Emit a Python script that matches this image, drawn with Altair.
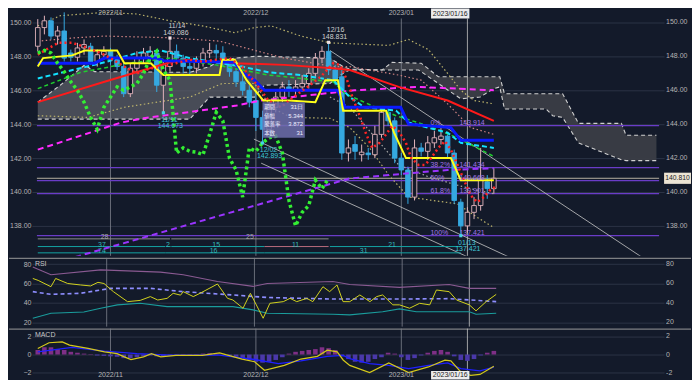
import altair as alt
import pandas as pd

# ---------------- data (daily candles, index 0 = 2022/11/01) ----------------
IDX = list(range(-11, 59))
OPEN = [148.6, 149.7, 150.1, 149.2, 149.5, 148.2, 147.95, 148.5, 148.6, 147.7, 148.1,
        148.3, 147.8, 147.4, 145.8, 147.3, 147.9, 148.0, 148.2, 146.3, 147.4,
        148.3, 147.9, 147.4, 147.3, 147.7, 148.2, 148.35, 148.2, 147.6, 147.1,
        146.5, 146.0, 145.4, 144.4, 143.7, 145.0, 145.6, 146.2, 146.0, 146.2,
        146.4, 147.0, 147.9, 148.3, 147.2, 146.8, 142.3, 142.8, 142.2, 142.3,
        142.2, 143.4, 144.7, 144.2, 142.0, 141.3, 139.7, 142.6, 142.4, 142.9,
        143.1, 143.3, 142.3, 139.4, 138.0, 138.8, 139.2, 140.6, 140.2]
HIGH = [150.2, 150.4, 150.3, 149.8, 150.6, 148.4, 148.8, 149.0, 148.8, 148.4, 148.6,
        148.5, 148.1, 147.6, 147.6, 148.3, 148.5, 148.6, 148.4, 147.8, 149.086,
        148.7, 148.1, 147.8, 148.0, 148.5, 148.8, 148.7, 148.6, 147.9, 147.3,
        146.9, 146.3, 145.9, 144.8, 145.3, 145.9, 146.5, 146.6, 146.6, 146.9,
        147.3, 148.2, 148.6, 148.831, 147.5, 147.3, 143.1, 143.3, 142.8, 142.6,
        143.9, 144.9, 145.0, 144.4, 142.3, 141.5, 143.1, 142.9, 143.3, 143.6,
        143.914, 143.5, 142.5, 139.6, 139.1, 139.7, 142.6, 141.0, 141.4]
LOW = [148.3, 149.3, 149.0, 148.7, 147.7, 147.7, 147.7, 148.1, 147.5, 147.4, 147.8,
       147.5, 147.2, 145.6, 145.6, 147.0, 147.6, 147.7, 145.9, 144.673, 147.1,
       147.6, 147.0, 146.9, 147.0, 147.4, 147.9, 147.8, 147.4, 146.8, 146.2,
       145.7, 145.0, 143.6, 142.893, 143.5, 144.7, 145.3, 145.6, 145.7, 145.9,
       146.1, 146.8, 147.6, 146.9, 146.3, 141.9, 141.8, 141.9, 141.8, 141.9,
       142.0, 143.2, 143.9, 141.7, 141.0, 139.3, 139.5, 142.1, 141.9, 142.6,
       142.8, 142.0, 139.3, 137.421, 137.6, 138.4, 138.9, 139.6, 139.9]
CLOSE = [149.7, 150.1, 149.2, 149.5, 147.9, 147.95, 148.5, 148.7, 147.7, 148.1, 148.3,
         147.8, 147.4, 145.8, 147.3, 147.9, 148.2, 148.3, 146.3, 147.5, 148.3,
         147.9, 147.4, 147.3, 147.7, 148.2, 148.35, 148.2, 147.6, 147.1, 146.5,
         146.0, 145.3, 144.4, 143.7, 145.0, 145.6, 146.2, 146.0, 146.2, 146.4,
         147.0, 147.9, 148.3, 147.2, 146.6, 142.3, 142.6, 142.4, 142.35, 142.2,
         143.4, 144.7, 144.2, 142.0, 141.3, 139.7, 142.6, 142.4, 142.9, 143.2,
         143.3, 142.3, 139.5, 138.0, 138.8, 139.2, 140.7, 140.2, 140.81]
HIST = [0.5, 0.8, 0.8, 0.6, 0.5, 0.3, 0.2, 0.1, 0.05, -0.1,
        -0.15, -0.2, -0.25, -0.4, -0.4, -0.3, -0.2, -0.1, -0.2, -0.2,
        -0.1, -0.05, 0.05, 0.05, 0.05, 0.1, 0.15, 0.1, 0.0, -0.15,
        -0.25, -0.4, -0.6, -0.8, -0.9, -0.8, -0.6, -0.3, 0.1, 0.3,
        0.4, 0.5, 0.6, 0.8, 0.7, 0.5, -0.2, -0.5, -0.8, -0.9,
        -0.8, -0.5, -0.3, 0.2, 0.1, -0.3, -0.6, -0.4, -0.1, 0.2,
        0.4, 0.5, 0.3, -0.2, -0.6, -0.7, -0.5, -0.1, 0.2, 0.4]

MONTH_IDX = [0, 22, 44]
MONTH_LABELS = ["2022/11", "2022/12", "2023/01"]
CROSS_IDX = 54
CROSS_LABEL = "2023/01/16"
LAST_PRICE = 140.81
PRICE_TICKS = [138, 140, 142, 144, 146, 148, 150]
RSI_TICKS = [20, 40, 60, 80]
MACD_TICKS = [-2, 0, 2]
CHIKOU_SHIFT = 25

# Ichimoku cloud (two colour regimes, split at index 35.2)
CLOUD_X = [-11, -7.6, -3.9, -2.4, 12, 15, 15.9, 18.8, 21.8, 22.8, 23.3, 33.2, 35.2, 36.2, 41.1,
           42.6, 46.6, 47, 49.6, 53, 55.9, 58, 58.9, 59.6, 65.9, 66.9, 68.4, 70.8, 77.3, 78, 82.6]
CLOUD_UP = [145.3, 146.3, 147.5, 147.1, 147.06, 147.4, 147.6, 147.9, 148.0, 148.0, 148.0, 147.9, 147.4, 147.25, 147.2,
            147.65, 147.6, 147.6, 146.8, 146.8, 146.8, 146.8, 146.8, 145.8, 145.8, 145.8, 145.8, 144.05, 144.05, 143.35, 143.35]
CLOUD_LO = [144.3, 144.3, 144.3, 144.3, 144.3, 145.6, 145.6, 145.6, 145.6, 146.1, 146.3, 146.4, 147.0, 147.2, 147.2,
            147.2, 147.2, 147.1, 146.4, 145.5, 145.6, 146.1, 146.2, 144.9, 144.9, 144.5, 144.4, 142.9, 141.9, 141.85, 141.85]
CLOUD_SPLIT = 35.2

# Bollinger bands
BB_UP2_X = [-11, -7.6, -0.9, 4, 9, 13.9, 18.8, 21.8, 24.3, 28.8, 33.2, 39.2, 42.1, 45.1, 48.1, 51, 53, 55, 58]
BB_UP2_Y = [149.8, 150.4, 150.6, 150.5, 150.1, 149.8, 149.4, 149.7, 149.8, 149.2, 148.8, 148.7, 148.65, 149.0, 148.4, 147.0, 146.0, 145.4, 145.2]
BB_UP1_X = [-11, -5.3, -0.9, 9, 16.5, 21.4, 26.3, 33.7, 36.2, 43.6, 47, 51, 54.5, 58]
BB_UP1_Y = [148.9, 149.1, 149.2, 149.1, 148.9, 148.4, 147.9, 147.4, 147.4, 146.9, 146.6, 145.2, 143.8, 143.4]
BB_LO1_X = [33.2, 36.2, 39.2, 43.6, 48.1, 52.5, 55.5, 58]
BB_LO1_Y = [145.6, 145.0, 143.6, 141.6, 140.9, 140.4, 140.1, 139.9]
BB_LO2_X = [-11, -3.4, 2.1, 12, 16.9, 21.8, 24.3, 27.3, 33.2, 36.2, 39.2, 42.1, 45.1, 52.5, 55.5, 58]
BB_LO2_Y = [144.5, 144.4, 145.0, 145.6, 146.4, 146.4, 145.0, 144.4, 144.35, 143.8, 142.6, 141.0, 139.7, 139.3, 138.5, 137.9]

# moving averages / ichimoku lines
RED_X = [-11, -0.9, 9, 11, 18.8, 26.3, 33.7, 36.2, 43.6, 51, 58]
RED_Y = [145.3, 146.5, 147.65, 147.8, 147.6, 147.5, 147.3, 147.2, 146.2, 145.4, 144.2]
BLUE_X = [-11, -2.4, -0.9, 7, 8, 18.8, 19.9, 21.8, 23.3, 34.4, 35.5, 43.9, 45.1, 51.5, 53, 58]
BLUE_Y = [147.6, 147.6, 147.9, 147.9, 147.75, 147.65, 147.05, 146.6, 146.0, 146.0, 145.0, 145.0, 144.0, 143.8, 143.05, 143.05]
YEL_X = [-11, -10.2, -5.8, -3.9, 1, 2.1, 6.1, 8, 16.5, 16.9, 18.8, 20.6, 23.1, 27, 31, 32.5, 34.4, 35.2,
         41.7, 42.9, 44.7, 51.5, 53, 58]
YEL_Y = [147.4, 147.9, 148.06, 148.35, 148.35, 147.6, 147.6, 146.9, 146.9, 147.8, 147.8, 146.6, 145.4, 145.4,
         145.3, 146.6, 146.6, 144.8, 144.8, 143.5, 142.0, 142.0, 140.7, 140.7]
CYAN_X = [-11, -0.9, 4, 7.6, 12, 15.9, 19.9, 23.9, 28.8, 33.7, 36.2, 38.4, 43.2, 45.1, 51, 53, 58]
CYAN_Y = [146.7, 147.65, 148.2, 148.35, 147.9, 147.65, 147.4, 147.06, 146.9, 146.6, 145.6, 145.0, 144.8, 144.1, 143.5, 142.9, 142.6]
GREEN_X = [-11, -4.6, 2.8, 9, 15.9, 23.9, 33.7, 35.5, 40.7, 43.2, 48.1, 52.5, 58]
GREEN_Y = [146.1, 147.05, 147.6, 147.9, 147.5, 146.9, 146.5, 145.8, 144.9, 144.5, 143.9, 143.2, 142.1]
MAG_X = [-11, 1.6, 5, 19.1, 22.8, 36.9, 46.6, 58]
MAG_Y = [142.5, 144.1, 144.35, 145.1, 145.4, 146.0, 146.2, 146.0]
PUR_X = [-6.8, 36.2, 51, 58]
PUR_Y = [136.0, 140.8, 141.3, 141.4]
MA5_X = [-11, -9.3, -7.9, -5.8, -3.4, -0.9, 2.1, 4, 6.1, 8, 9.9, 12, 13.9, 15.9, 18, 19.9, 21.8, 23.9,
         25.8, 27.7, 29.8, 31.8, 33.7, 34.7, 35.8, 36.6, 37.7, 38.7, 39.6, 40.7, 41.7, 42.6, 43.6, 44.7,
         45.5, 46.6, 47.6, 48.5, 49.6, 50.6, 51.5, 52.5, 53.6, 54.5, 55.5, 56.5, 57.4, 58.2]
MA5_Y = [148.1, 148.5, 148.8, 148.8, 148.5, 148.1, 147.4, 147.0, 147.3, 147.4, 147.6, 147.8, 147.7, 147.8,
         147.9, 147.4, 146.5, 145.4, 145.0, 145.6, 146.2, 146.8, 147.6, 147.5, 146.6, 145.6, 144.5, 143.4,
         142.6, 142.9, 143.4, 143.9, 143.6, 142.9, 142.0, 141.6, 141.6, 142.0, 142.6, 143.0, 142.5, 141.6,
         140.6, 139.8, 139.4, 139.7, 140.1, 140.3]

# trend lines
TL_X1 = [33.2, 21.7, 22.8]
TL_Y1 = [148.35, 143.12, 141.7]
TL_X2 = [80.3, 60.2, 54.0]
TL_Y2 = [136.18, 136.18, 136.18]

# fibonacci
FIB_PCT = ["0%", "38.2%", "50%", "61.8%", "100%"]
FIB_VAL = [143.914, 141.434, 140.668, 139.901, 137.421]

# swing highs / lows
HI_X = [9, 33]
HI_P = [149.086, 148.831]
HI_DATE = ["11/14", "12/16"]
LO_X = [8, 23, 53]
LO_P = [144.673, 142.893, 137.421]
LO_DATE = ["11/11", "12/02", "01/13"]

# measurement box
BOX_KEYS = ["期間", "値幅", "騰落率", "本数"]
BOX_VALS = ["31日", "5.344", "3.872", "31"]

# count rows
CNT_LABELS_1 = ["28", "25"]
CNT_LABELS_2 = ["37", "2", "15", "11", "21"]
CNT_LABELS_3 = ["74", "16", "31"]

# RSI panel
RSI_X = [-11, -10.2, -8.3, -7.6, -5.8, -3.9, -2.4, -1.3, -0.4, 1, 3.1, 5, 6.5, 7.6, 9, 9.9, 11, 11.4, 12.9,
         13.9, 16.5, 18, 18.8, 20.3, 21.4, 23.3, 24.3, 26.3, 27.3, 28.3, 29.8, 30.7, 32.2, 33.2, 34.3, 35.2,
         36.2, 37.7, 39.2, 40.2, 41.1, 42.6, 43.6, 45.1, 46.6, 48.1, 49.1, 51, 52.1, 54, 55, 56.5, 58]
RSI_Y = [65.2, 63.2, 56.7, 65.2, 60, 58.5, 57.5, 61.2, 60, 51.6, 41.3, 42.6, 46.5, 43, 44.7, 49.9, 48, 51.6, 46.5,
         49.9, 59.5, 44.7, 43, 34.5, 49.9, 24.2, 39.6, 41.3, 44.7, 41.3, 44.7, 41.3, 56.7, 51.6, 58.5, 41.3,
         41.3, 48.2, 41.3, 46.5, 48.2, 38, 38, 34.5, 39.6, 38, 53.3, 51.6, 43, 38, 31.8, 41.3, 48.8]
RSI_SIG_X = [-11, -8.3, -3.9, 0.6, 6.5, 11.4, 18.8, 23.9, 33.7, 43.6, 51, 58]
RSI_SIG_Y = [51.6, 48.8, 49.9, 55, 55, 51.6, 48.2, 45.6, 44, 44, 44.4, 41.3]
RSI_UP_X = [-11, -8.3, -0.9, 8, 11.4, 16.5, 21.8, 23.9, 33.7, 36.2, 43.6, 51, 54, 58]
RSI_UP_Y = [77, 69, 74, 71.7, 69, 62, 57, 60, 62, 59, 56, 59, 55, 55]
RSI_LO_X = [-11, -8.3, -3.4, -0.9, 1.6, 5, 9, 18.8, 21.8, 23.9, 33.7, 36.2, 41.1, 43.6, 46.1, 54, 55, 58]
RSI_LO_Y = [24.2, 29.3, 30.6, 34.5, 38, 39.6, 36.2, 36.2, 32.8, 29.3, 28.3, 27.7, 30.9, 33.8, 30.9, 30.9, 28.3, 29.3]

# MACD panel
MACD_X = [-11, -9.3, -7.3, -6.2, -3.4, -0.9, 1, 2.1, 3.1, 5, 6.2, 7.6, 9.9, 13.9, 16.5, 19.9, 21.8, 23.3,
          26.3, 28.8, 31.3, 32.8, 34.3, 35.2, 36.2, 39.2, 42.1, 45.1, 48.1, 50.6, 51.5, 53, 54.5, 55.9, 58]
MACD_Y = [0.67, 1.3, 1.4, 1.04, 0.67, 0.3, 0.1, -0.26, -0.55, -0.26, 0.1, -0.26, -0.1, -0.1, 0.18, -0.5, -0.8,
          -1.74, -1.2, -0.5, -0.2, 0.48, 0.3, -0.6, -1.2, -2.0, -0.93, -2.0, -1.37, -0.63, -0.7, -1.93, -2.3, -2.2, -1.3]
SIG_X = [-11, -5.8, -0.9, 4, 9, 16.5, 21.8, 25.4, 28.8, 32.8, 35.2, 36.2, 39.2, 42.1, 45.1, 48.1, 51, 53, 55.9, 58]
SIG_Y = [0.3, 0.78, 0.37, 0.1, -0.07, -0.07, -0.55, -1.0, -0.7, -0.2, -0.1, -0.44, -1.0, -1.2, -1.56, -1.2,
         -0.93, -1.56, -1.8, -1.4]

# ---------------- styling ----------------
BG = "#131a2a"
GRID = "#2b3345"
LBL = "#b4b4b4"
FONT = "Liberation Sans"
JFONT = "Noto Sans CJK JP"
BULL = "#e2b4bc"
BEAR = "#35a8e0"
W = 634
H_MAIN, H_RSI, H_MACD = 248, 69, 51
LEFT_EXT = 23

XS = alt.Scale(domain=[-11.13, 83.0], nice=False, zero=False)
YS = alt.Scale(domain=[136.235, 150.8235], nice=False, zero=False)
RS = alt.Scale(domain=[15.58, 86.47], nice=False, zero=False)
MS = alt.Scale(domain=[-2.753, 2.863], nice=False, zero=False)


def mk_axis(values, fmt):
    return alt.Axis(values=values, format=fmt, grid=True, gridColor=GRID, gridWidth=1, domain=False,
                    ticks=False, tickSize=0, labelColor=LBL, labelFont=FONT, labelFontSize=7,
                    labelPadding=1, minExtent=LEFT_EXT, maxExtent=LEFT_EXT, title=None)


MAIN_AX = mk_axis(PRICE_TICKS, ".2f")
RSI_AX = mk_axis(RSI_TICKS, "d")
MACD_AX = mk_axis(MACD_TICKS, "d")


def ex(f="x"):
    return alt.X(f"{f}:Q", scale=XS, axis=None)


def ey(f, sc=YS, ax=MAIN_AX):
    return alt.Y(f"{f}:Q", scale=sc, axis=ax)


def pline(xs, ys, color, width, dash=None, sc=YS, ax=MAIN_AX, opacity=1.0):
    kw = dict(color=color, strokeWidth=width, clip=True, opacity=opacity)
    if dash:
        kw["strokeDash"] = dash
    return alt.Chart(pd.DataFrame({"x": xs, "y": ys})).mark_line(**kw).encode(x=ex(), y=ey("y", sc, ax))


def ptext(xs, ys, texts, color, size=7, align="center", baseline="middle", font=FONT, dx=0, dy=0,
          sc=YS, ax=MAIN_AX):
    df = pd.DataFrame({"x": xs, "y": ys, "t": texts})
    return alt.Chart(df).mark_text(color=color, fontSize=size, align=align, baseline=baseline, font=font,
                                   dx=dx, dy=dy).encode(x=ex(), y=ey("y", sc, ax), text="t:N")


def hrule(y, x1, x2, color, width=1.0, sc=YS, ax=MAIN_AX):
    df = pd.DataFrame({"y": [y], "a": [x1], "b": [x2]})
    return alt.Chart(df).mark_rule(color=color, strokeWidth=width, clip=True).encode(
        x=ex("a"), x2=alt.X2("b"), y=ey("y", sc, ax))


def vrules(xs, y1, y2, color, width=0.8):
    return alt.Chart(pd.DataFrame({"x": xs})).mark_rule(color=color, strokeWidth=width).encode(
        x=ex(), y=alt.value(y1), y2=alt.value(y2))


def separator():
    return alt.Chart(pd.DataFrame({"a": [0]})).mark_rule(color="#9a9a9a", strokeWidth=1).encode(
        x=alt.value(-LEFT_EXT), x2=alt.value(W + 27), y=alt.value(0.5))


def right_labels(values, fmt, sc, ax):
    return ptext([0] * len(values), values, [fmt.format(v) for v in values], LBL, size=7,
                 align="left", sc=sc, ax=ax).encode(x=alt.value(W + 2))


# ---------------- main panel ----------------
cloud_df = pd.DataFrame({"x": CLOUD_X, "u": CLOUD_UP, "l": CLOUD_LO})
cloud_a = alt.Chart(cloud_df[cloud_df.x <= CLOUD_SPLIT]).mark_area(
    color="#5b5e67", opacity=0.75, clip=True).encode(x=ex(), y=ey("u"), y2=alt.Y2("l"))
cloud_b = alt.Chart(cloud_df[cloud_df.x >= CLOUD_SPLIT]).mark_area(
    color="#3a3d46", opacity=0.95, clip=True).encode(x=ex(), y=ey("u"), y2=alt.Y2("l"))
cloud_u = pline(CLOUD_X, CLOUD_UP, "#d0d0d0", 1.1, [4, 3])
cloud_l = pline(CLOUD_X, CLOUD_LO, "#d0d0d0", 1.1, [4, 3])

fib_layers = [hrule(v, -11.13, 83.0, "#6a3cc8", 1.2) for v in FIB_VAL]
fib_txt1 = ptext([48.4] * 5, FIB_VAL, FIB_PCT, "#a275e6", size=7, align="left", baseline="bottom")
fib_txt2 = ptext([52.8] * 5, FIB_VAL, [f"{v:.3f}" for v in FIB_VAL], "#a275e6", size=7, align="left",
                 baseline="bottom")
price_line = hrule(LAST_PRICE, -11.13, 83.0, "#b8b0a0", 1.0)

tl_df = pd.DataFrame({"a": TL_X1, "ya": TL_Y1, "b": TL_X2, "yb": TL_Y2})
trend = alt.Chart(tl_df).mark_rule(color="#c8c8c8", strokeWidth=0.8, clip=True).encode(
    x=ex("a"), x2=alt.X2("b"), y=ey("ya"), y2=alt.Y2("yb"))

# count rows
R1, R2, R3 = 137.235, 136.782, 136.41
GRAYC, TEALC, PINKC = "#8c8c8c", "#13a3a3", "#b86c7c"
cnt_rules = [
    hrule(R1, -11, 9, GRAYC), hrule(R1, 9.2, 33, GRAYC),
    hrule(R2, -11, 8.3, TEALC), hrule(R2, 8.4, 9.1, TEALC), hrule(R2, 9.2, 23.3, TEALC),
    hrule(R2, 23.3, 33, PINKC), hrule(R2, 33.2, 53, TEALC),
    hrule(R3, -11, 8.3, TEALC), hrule(R3, 8.3, 23.3, TEALC), hrule(R3, 23.3, 53, TEALC),
]
cnt_txt = [
    ptext([-0.9, 21.1], [R1 + 0.12] * 2, CNT_LABELS_1, "#a8a8a8", size=7),
    ptext([-1.3, 8.7, 16, 28, 42.6], [R2 + 0.12] * 5, CNT_LABELS_2, "#34b9b9", size=7),
    ptext([-1.3, 15.6, 38.3], [R3 + 0.12] * 3, CNT_LABELS_3, "#34b9b9", size=7),
]

bands = [
    pline(BB_UP2_X, BB_UP2_Y, "#bdb46c", 1.2, [1.5, 2.5]),
    pline(BB_UP1_X, BB_UP1_Y, "#cf8282", 1.2, [1.5, 2.5]),
    pline(BB_LO1_X, BB_LO1_Y, "#a8a8a8", 1.2, [1.5, 2.5]),
    pline(BB_LO2_X, BB_LO2_Y, "#bdb46c", 1.2, [1.5, 2.5]),
]

cdf = pd.DataFrame({"x": IDX, "o": OPEN, "h": HIGH, "l": LOW, "c": CLOSE})
UP = "datum.c >= datum.o"
wicks = alt.Chart(cdf).mark_rule(strokeWidth=1).encode(
    x=ex(), y=ey("l"), y2=alt.Y2("h"), color=alt.condition(UP, alt.value(BULL), alt.value(BEAR)))
bodies = alt.Chart(cdf).mark_bar(size=4.6, strokeWidth=0.9).encode(
    x=ex(), y=ey("o"), y2=alt.Y2("c"),
    fill=alt.condition(UP, alt.value(BG), alt.value(BEAR)),
    stroke=alt.condition(UP, alt.value(BULL), alt.value(BEAR)))

mas = [
    pline(MAG_X, MAG_Y, "#ff2bff", 2, [6, 4]),
    pline(PUR_X, PUR_Y, "#9a34ff", 2, [6, 4]),
    pline(RED_X, RED_Y, "#ff1a1a", 2),
    pline(GREEN_X, GREEN_Y, "#1fcf2f", 1.5, [4, 3]),
    pline(CYAN_X, CYAN_Y, "#13e1ff", 2, [5, 3]),
    pline(BLUE_X, BLUE_Y, "#0b1bff", 3),
    pline(YEL_X, YEL_Y, "#ffff1a", 2),
    pline(MA5_X, MA5_Y, "#ff2424", 2.5, [2, 3]),
]

chi_x = [i - CHIKOU_SHIFT for i in IDX if i >= 14]
chi_y = [c for i, c in zip(IDX, CLOSE) if i >= 14]
chikou = pline(chi_x, chi_y, "#33ee33", 3.5, [3, 3])

# swing markers and labels
hi_mark = alt.Chart(pd.DataFrame({"x": HI_X, "y": HI_P})).mark_point(
    shape="square", filled=True, size=10, color="#f0e0e4", opacity=1).encode(x=ex(), y=ey("y"))
lo_mark = alt.Chart(pd.DataFrame({"x": LO_X, "y": LO_P})).mark_point(
    shape="square", filled=True, size=10, color="#44d4e4", opacity=1).encode(x=ex(), y=ey("y"))
hi_t1 = ptext(HI_X, HI_P, HI_DATE, "#cfcfcf", dx=7, dy=-12)
hi_t2 = ptext(HI_X, HI_P, [f"{p:.3f}" for p in HI_P], "#cfcfcf", dx=6, dy=-5)
lo_t1 = ptext(LO_X, LO_P, LO_DATE, "#40c8d8", dx=6, dy=7)
lo_t2 = ptext(LO_X, LO_P, [f"{p:.3f}" for p in LO_P], "#40c8d8", dx=7, dy=13)

# measurement box
box_df = pd.DataFrame({"a": [23.0], "b": [29.4], "ya": [145.3], "yb": [143.2]})
box = alt.Chart(box_df).mark_rect(color="#6e6eac", opacity=0.85).encode(
    x=ex("a"), x2=alt.X2("b"), y=ey("ya"), y2=alt.Y2("yb"))
row_p = [145.0 - k * 0.5 for k in range(4)]
box_k = ptext([23.25] * 4, row_p, BOX_KEYS, "#eeeeff", size=5.4, align="left", font=JFONT)
box_v = ptext([29.15] * 4, row_p, BOX_VALS, "#eeeeff", size=6, align="right", font=FONT)

# time labels (top) and crosshair
vgrid_main = vrules(MONTH_IDX, 10, H_MAIN, "#7d828d", 0.8)
cross_main = vrules([CROSS_IDX], 10, H_MAIN, "#c4c4c4", 0.8)
top_lbl = alt.Chart(pd.DataFrame({"x": MONTH_IDX, "t": MONTH_LABELS})).mark_text(
    color=LBL, fontSize=7, font=FONT).encode(x=ex(), y=alt.value(4.5), text="t:N")
xbox_df = pd.DataFrame({"a": [CROSS_IDX - 5.5], "b": [CROSS_IDX + 0.3], "m": [CROSS_IDX - 2.6], "t": [CROSS_LABEL]})
top_box = alt.Chart(xbox_df).mark_rect(color="#ececec").encode(
    x=ex("a"), x2=alt.X2("b"), y=alt.value(0), y2=alt.value(10))
top_box_t = alt.Chart(xbox_df).mark_text(color="#1c1c1c", fontSize=7, font=FONT).encode(
    x=ex("m"), y=alt.value(5), text="t:N")

# right side price labels
rl_main = right_labels(PRICE_TICKS, "{:.2f}", YS, MAIN_AX)
pbox = alt.Chart(pd.DataFrame({"ya": [LAST_PRICE + 0.33], "yb": [LAST_PRICE - 0.33]})).mark_rect(
    color="#ece4d4").encode(x=alt.value(W), x2=alt.value(W + 27), y=ey("ya"), y2=alt.Y2("yb"))
pbox_t = ptext([0], [LAST_PRICE], [f"{LAST_PRICE:.3f}"], "#1c1c1c", size=6.8).encode(x=alt.value(W + 13.5))

main = alt.layer(
    cloud_a, cloud_b, cloud_u, cloud_l, vgrid_main, cross_main, *fib_layers, price_line, trend,
    *cnt_rules, *cnt_txt, *bands, wicks, bodies, *mas, chikou,
    fib_txt1, fib_txt2, hi_mark, lo_mark, hi_t1, hi_t2, lo_t1, lo_t2,
    box, box_k, box_v, top_lbl, top_box, top_box_t, rl_main, pbox, pbox_t,
).properties(width=W, height=H_MAIN)

# ---------------- RSI panel ----------------
rsi = alt.layer(
    separator(),
    vrules(MONTH_IDX, 0, H_RSI, "#7d828d", 0.8),
    vrules([CROSS_IDX], 0, H_RSI, "#c4c4c4", 0.8),
    pline(RSI_UP_X, RSI_UP_Y, "#8a5a92", 1.1, sc=RS, ax=RSI_AX),
    pline(RSI_LO_X, RSI_LO_Y, "#1a9c9c", 1.1, sc=RS, ax=RSI_AX),
    pline(RSI_SIG_X, RSI_SIG_Y, "#8e8eff", 1.6, [4, 3], sc=RS, ax=RSI_AX),
    pline(RSI_X, RSI_Y, "#d2d21e", 1.0, sc=RS, ax=RSI_AX),
    right_labels(RSI_TICKS, "{}", RS, RSI_AX),
    alt.Chart(pd.DataFrame({"t": ["RSI"]})).mark_text(color="#c8c8c8", fontSize=7, font=FONT, align="left").encode(
        x=alt.value(3), y=alt.value(6.5), text="t:N"),
).properties(width=W, height=H_RSI)

# ---------------- MACD panel ----------------
hdf = pd.DataFrame({"x": IDX, "h": HIST})
hist = alt.Chart(hdf).mark_bar(size=4.6).encode(
    x=ex(), y=ey("h", MS, MACD_AX), y2=alt.datum(0),
    color=alt.condition("datum.h >= 0", alt.value("#7e2f86"), alt.value("#4a38aa")))
bot_lbl = alt.Chart(pd.DataFrame({"x": MONTH_IDX, "t": MONTH_LABELS})).mark_text(
    color=LBL, fontSize=7, font=FONT).encode(x=ex(), y=alt.value(47), text="t:N")
bot_box = alt.Chart(xbox_df).mark_rect(color="#ececec").encode(
    x=ex("a"), x2=alt.X2("b"), y=alt.value(42.5), y2=alt.value(51))
bot_box_t = alt.Chart(xbox_df).mark_text(color="#1c1c1c", fontSize=7, font=FONT).encode(
    x=ex("m"), y=alt.value(47), text="t:N")

macd = alt.layer(
    separator(),
    vrules(MONTH_IDX, 0, 42, "#7d828d", 0.8),
    vrules([CROSS_IDX], 0, 42, "#c4c4c4", 0.8),
    hist,
    pline(SIG_X, SIG_Y, "#1f1fff", 1.3, sc=MS, ax=MACD_AX),
    pline(MACD_X, MACD_Y, "#d4c81a", 1.2, sc=MS, ax=MACD_AX),
    right_labels(MACD_TICKS, "{}", MS, MACD_AX),
    alt.Chart(pd.DataFrame({"t": ["MACD"]})).mark_text(color="#c8c8c8", fontSize=7, font=FONT, align="left").encode(
        x=alt.value(3), y=alt.value(6.5), text="t:N"),
    bot_lbl, bot_box, bot_box_t,
).properties(width=W, height=H_MACD)

chart = alt.vconcat(main, rsi, macd, spacing=0).properties(
    background=BG, padding=0,
    usermeta={"embedOptions": {"defaultStyle": "body{background:#131a2a;}"}},
).configure_view(stroke=None)

chart.save("out.html", embed_options={"renderer": "svg", "actions": False})
